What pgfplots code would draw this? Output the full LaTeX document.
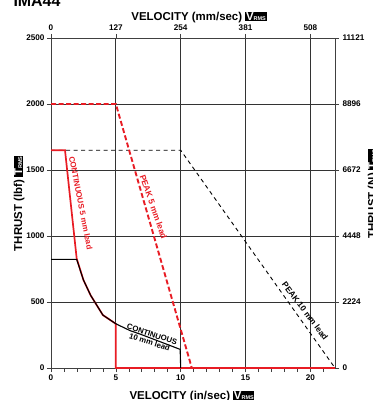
\documentclass[border=0pt]{standalone}
\usepackage{fontspec}
\setmainfont{Liberation Sans}
\usepackage{pgfplots}
\pgfplotsset{compat=1.18}
\definecolor{cred}{RGB}{232,28,36}
\newcommand\badge[2]{{\setlength\fboxsep{0.7pt}\colorbox{black}{\textcolor{white}{\bfseries #1\fontsize{5.5}{5.5}\selectfont #2}}}}
\begin{document}
\begin{tikzpicture}
\begin{axis}[
 scale only axis, width=284bp, height=330bp,
 xmin=0, xmax=21.9, ymin=0, ymax=2500,
 axis x line*=bottom, axis y line*=left,
 axis line style={black!75, line width=0.8pt, -},
 xtick={0,5,10,15,20},
 minor xtick={1,2,3,4,6,7,8,9,11,12,13,14,16,17,18,19,21},
 ytick={0,500,1000,1500,2000,2500},
 tick align=outside,
 major tick length=4bp, minor tick length=3.5bp,
 tick style={black!75, line width=0.6pt},
 grid=major, major grid style={black!80, line width=0.7pt},
 ticklabel style={font=\fontsize{8.2}{9}\selectfont\bfseries},
 yticklabel style={xshift=1bp},
 xticklabel style={yshift=1bp},
 scaled ticks=false,
 /pgf/number format/assume math mode=true,
 /pgf/number format/1000 sep={},
 clip=false,
]
% PEAK 10 mm lead
\addplot[black, line width=0.9pt, dash pattern=on 4bp off 3.5bp] coordinates {(0,1650)(10,1650)(21.9,0)};
% PEAK 5 mm lead
\addplot[cred, line width=1.9pt, dash pattern=on 5bp off 2.5bp] coordinates {(0,2000)(5,2000)(10.86,0)(21.9,0)};
% CONTINUOUS 5 mm lead
\addplot[cred, line width=1.7pt] coordinates {(0,1650)(1.08,1650)(1.98,830)(2.5,667)(3.06,550)(4.0,401)(5.0,335)(5.0,0)(21.9,0)};
% CONTINUOUS 10 mm lead
\addplot[black, line width=1.1pt] coordinates {(0,823)(1.98,823)(2.5,667)(3.06,550)(4.0,401)(5.0,335)(6.1,283)(6.87,257)(8.42,199)(9.96,141)(10,0)};
\node[cred, rotate=-79, font=\fontsize{8}{8}\selectfont\bfseries] at (axis cs:2.3,1250) {CONTINUOUS 5 mm lead};
\node[cred, rotate=-71, font=\fontsize{8.5}{8.5}\selectfont\bfseries] at (axis cs:7.9,1220) {PEAK 5 mm lead};
\node[black, rotate=-18, align=center, font=\fontsize{7.8}{8}\selectfont\bfseries] at (axis cs:7.7,225) {CONTINUOUS\\10 mm lead};
\node[black, rotate=-53, font=\fontsize{8.3}{8.3}\selectfont\bfseries] at (axis cs:19.6,432) {PEAK 10 mm lead};
\end{axis}
\begin{axis}[
 scale only axis, width=284bp, height=330bp,
 xmin=0, xmax=556.26, ymin=0, ymax=11121,
 axis x line*=top, axis y line*=right,
 axis line style={black!75, line width=0.8pt, -},
 xtick={0,127,254,381,508},
 ytick={0,2224,4448,6672,8896,11121},
 tick align=outside,
 major tick length=4bp,
 tick style={black!75, line width=0.6pt},
 ticklabel style={font=\fontsize{8.2}{9}\selectfont\bfseries},
 scaled ticks=false,
 /pgf/number format/assume math mode=true,
 /pgf/number format/1000 sep={},
]
\addplot[draw=none] coordinates {(0,0)};
\end{axis}
\node[font=\fontsize{11.5}{12}\selectfont\bfseries] at (148bp,351bp) {VELOCITY (mm/sec) \badge{V}{RMS}};
\node[font=\fontsize{11.5}{12}\selectfont\bfseries] at (141bp,-28bp) {VELOCITY (in/sec) \badge{V}{RMS}};
\node[rotate=90, anchor=north, font=\fontsize{11.5}{12}\selectfont\bfseries] at (-41bp,164.5bp) {THRUST (lbf) \badge{T}{RMS}};
\node[rotate=90, anchor=north, font=\fontsize{11.5}{12}\selectfont\bfseries] at (313bp,174bp) {THRUST (N) \badge{T}{RMS}};
\node[anchor=base west, font=\fontsize{16}{16}\selectfont\bfseries] at (-41bp,361bp) {IMA44};
\pgfresetboundingbox
\useasboundingbox (-51bp,-32bp) rectangle (322bp,368bp);
\end{tikzpicture}
\end{document}
